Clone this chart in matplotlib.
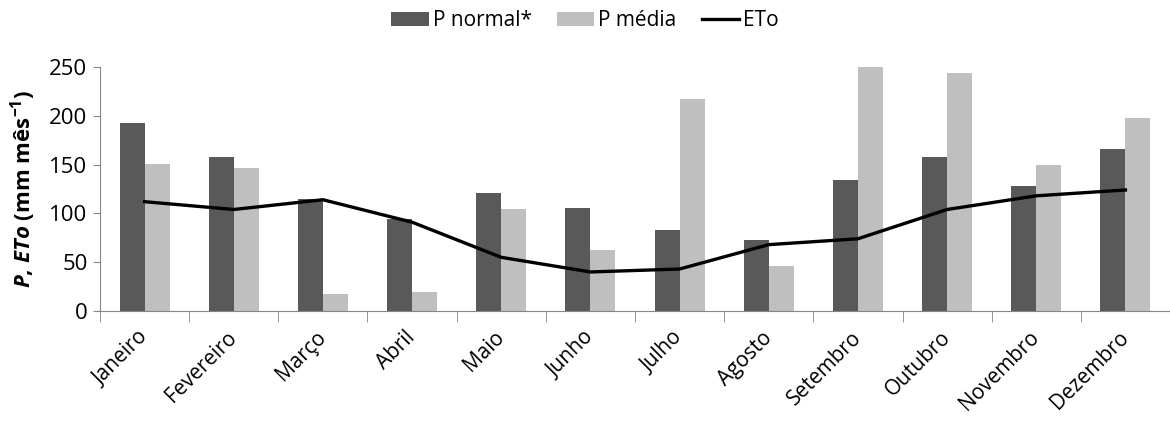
import matplotlib
matplotlib.use('Agg')
import matplotlib.pyplot as plt
import numpy as np

months = ['Janeiro', 'Fevereiro', 'Março', 'Abril', 'Maio', 'Junho', 'Julho',
          'Agosto', 'Setembro', 'Outubro', 'Novembro', 'Dezembro']
p_normal = [193, 158, 115, 94, 121, 106, 83, 73, 134, 158, 128, 166]
p_media = [151, 147, 17, 19, 104, 63, 217, 46, 250, 244, 150, 198]
eto = [112, 104, 114, 91, 55, 40, 43, 68, 74, 104, 118, 124]

plt.rcParams['font.family'] = ['Open Sans', 'DejaVu Sans']
plt.rcParams['mathtext.fontset'] = 'custom'
plt.rcParams['mathtext.it'] = 'Open Sans:italic:bold'
plt.rcParams['mathtext.rm'] = 'Open Sans:bold'
plt.rcParams['mathtext.bf'] = 'Open Sans:bold'

fs = 16

fig = plt.figure(figsize=(11.7, 4.21), dpi=100)
ax = fig.add_axes([100 / 1170, 1 - 311 / 421, 1070 / 1170, 244 / 421])

x = np.arange(len(months))
w = 0.28
b1 = ax.bar(x - w / 2, p_normal, w, color='#595959', label='P normal*')
b2 = ax.bar(x + w / 2, p_media, w, color='#bfbfbf', label='P média')
l1, = ax.plot(x, eto, color='black', lw=2.4, label='ETo')

ax.set_xlim(-0.5, len(months) - 0.5)
ax.set_ylim(0, 250)
ax.set_yticks([0, 50, 100, 150, 200, 250])
ax.set_xticks(x)
ax.set_xticklabels(months, rotation=45, ha='right', va='center',
                   rotation_mode='anchor', fontsize=15)
ax.set_xticks(np.arange(-0.5, len(months)), minor=True)
ax.tick_params(axis='x', which='major', length=0, pad=17)
ax.tick_params(axis='x', which='minor', length=8, color='#868686', direction='out')
ax.tick_params(axis='y', labelsize=fs, length=5, color='#868686', pad=4)

for s in ['top', 'right']:
    ax.spines[s].set_visible(False)
ax.spines['left'].set_color('#868686')
ax.spines['bottom'].set_color('#868686')

ax.set_ylabel(r'$P$, $ETo$ (mm mês$^{-1}$)', fontsize=fs, fontweight='bold', labelpad=8)

fig.legend([b1, b2, l1], ['P normal*', 'P média', 'ETo'], loc='upper center',
           bbox_to_anchor=(0.5, 1.02), ncol=3, frameon=False, fontsize=15,
           handlelength=1.8, handletextpad=0.2, columnspacing=1.2)

fig.savefig('out.png', dpi=100)
